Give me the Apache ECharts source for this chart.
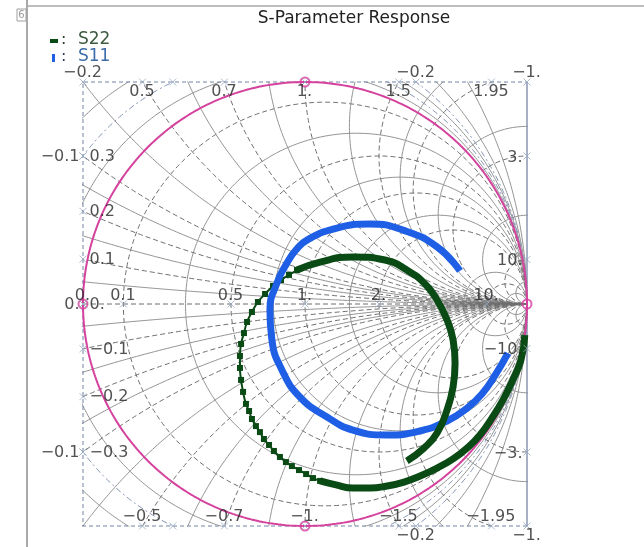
<!DOCTYPE html>
<html>
<head>
<meta charset="utf-8">
<title>S-Parameter Response</title>
<script src="https://cdn.jsdelivr.net/npm/echarts@6.0.0/dist/echarts.min.js"></script>
<style>
  html, body { margin: 0; padding: 0; background: #ffffff; }
  #chart { width: 644px; height: 547px; }
</style>
</head>
<body>
<div id="chart"></div>
<script>
// Reflection coefficient traces, [real, imaginary]
const s11 = [
  [0.698, 0.149], [0.595, 0.257], [0.441, 0.333], [0.293, 0.360], [0.144, 0.342],
  [0.009, 0.288], [-0.041, 0.243], [-0.081, 0.185], [-0.126, 0.095], [-0.158, -0.027],
  [-0.149, -0.162], [-0.104, -0.297], [-0.023, -0.419], [0.099, -0.509], [0.216, -0.568],
  [0.369, -0.590], [0.518, -0.572], [0.640, -0.527], [0.725, -0.473], [0.797, -0.405],
  [0.860, -0.315], [0.914, -0.221]
];
// S22: outer low-frequency arc, sparse sweep section, inner loop
const s22Outer = [
  [0.990, -0.140], [0.973, -0.252], [0.932, -0.351], [0.892, -0.432], [0.842, -0.514],
  [0.788, -0.590], [0.730, -0.649], [0.667, -0.698], [0.595, -0.739], [0.518, -0.775],
  [0.446, -0.802], [0.369, -0.820], [0.293, -0.829], [0.216, -0.829], [0.140, -0.815],
  [0.068, -0.797]
];
const s22Sweep = [
  [0.068, -0.797], [0.036, -0.784], [0.005, -0.766], [-0.027, -0.748], [-0.059, -0.730],
  [-0.086, -0.712], [-0.113, -0.689], [-0.140, -0.662], [-0.162, -0.635], [-0.185, -0.608],
  [-0.203, -0.577], [-0.221, -0.550], [-0.239, -0.518], [-0.252, -0.482], [-0.266, -0.450],
  [-0.279, -0.396], [-0.288, -0.342], [-0.293, -0.288], [-0.293, -0.234], [-0.288, -0.180],
  [-0.275, -0.131], [-0.261, -0.081], [-0.239, -0.036], [-0.212, 0.009], [-0.180, 0.045],
  [-0.144, 0.081], [-0.108, 0.108], [-0.072, 0.131], [-0.036, 0.153]
];
const s22Inner = [
  [-0.036, 0.153], [0.068, 0.189], [0.216, 0.212], [0.360, 0.198], [0.459, 0.153],
  [0.541, 0.090], [0.595, 0.018], [0.640, -0.072], [0.667, -0.162], [0.676, -0.266],
  [0.667, -0.374], [0.640, -0.477], [0.595, -0.581], [0.536, -0.649], [0.459, -0.707]
];

// Smith grid: normalized resistance circles and reactance arcs
const resistanceMajor = [0.1, 0.5, 1, 2, 10];
const resistanceMinor = [0.3, 0.75, 1.5, 6, 20];
const negResistanceMajor = [-0.1, -0.2];
const negResistanceMinor = [-0.05, -0.15, -0.3, -0.5];
const reactanceMajor = [0.1, 0.2, 0.3, 0.5, 0.7, 1, 1.5, 1.95, 3, 10];
const reactanceMinor = [0.05, 0.15, 0.25, 0.4, 0.6, 0.85, 1.25, 1.75, 2.5, 5, 20];

// Tick labels along the border and the real axis
const topReactance = [0.5, 0.7, 1, 1.5, 1.95];
const bottomReactance = [-0.5, -0.7, -1, -1.5, -1.95];
const leftReactance = [0.3, 0.2, 0.1, 0, -0.1, -0.2, -0.3];
const rightReactance = [3, 10, -10, -3];
const axisResistance = [0, 0.1, 0.5, 1, 2, 10];
const topResistance = [-0.2, -1];
const bottomResistance = [-0.2, -1];
const leftResistance = [-0.1, 0];
const markedResistance = [-0.1];

const LABEL_FONT = 'DejaVu Sans';
const LABEL_COLOR = '#262626';
const MAGENTA = '#d5429e';
const S11_COLOR = '#1f5fe6';
const S22_COLOR = '#0a4a14';

const styles = {
  solid:  { color: '#939393', width: 1, type: 'solid' },
  dashed: { color: '#6f6f6f', width: 1, type: [5, 3] },
  outer:  { color: '#8595b5', width: 1, type: [6, 3, 2, 3] }
};

const series = [];

// Arc pieces of a circle that lie inside the (slightly padded) chart square
function circleSegments(cx, cy, rad) {
  const lim = 1.02;
  const n = Math.ceil(2 * Math.PI * rad / 0.004);
  const segs = [];
  let cur = [];
  let startInside = false, endInside = false;
  for (let i = 0; i <= n; i++) {
    const t = 2 * Math.PI * i / n;
    const X = cx + rad * Math.cos(t), Y = cy + rad * Math.sin(t);
    const inside = Math.abs(X) <= lim && Math.abs(Y) <= lim;
    if (i === 0) startInside = inside;
    if (i === n) endInside = inside;
    if (inside) cur.push([X, Y]);
    else if (cur.length) { segs.push(cur); cur = []; }
  }
  if (cur.length) segs.push(cur);
  if (segs.length > 1 && startInside && endInside) {
    const last = segs.pop();
    segs[0] = last.concat(segs[0]);
  }
  return segs;
}

function addGridCircle(cx, cy, rad, style) {
  circleSegments(cx, cy, rad).forEach(seg => {
    series.push({
      type: 'line', data: seg, symbol: 'none', silent: true, clip: true,
      animation: false, lineStyle: style, z: 1
    });
  });
}

resistanceMinor.forEach(r => addGridCircle(r / (1 + r), 0, 1 / (1 + r), styles.solid));
resistanceMajor.forEach(r => addGridCircle(r / (1 + r), 0, 1 / (1 + r), styles.dashed));
negResistanceMinor.forEach(r => addGridCircle(r / (1 + r), 0, 1 / (1 + r), styles.solid));
negResistanceMajor.forEach(r => addGridCircle(r / (1 + r), 0, 1 / (1 + r), styles.outer));
reactanceMinor.forEach(x => {
  addGridCircle(1, 1 / x, 1 / x, styles.solid);
  addGridCircle(1, -1 / x, 1 / x, styles.solid);
});
reactanceMajor.forEach(x => {
  addGridCircle(1, 1 / x, 1 / x, styles.dashed);
  addGridCircle(1, -1 / x, 1 / x, styles.dashed);
});

// Real axis (x = 0)
series.push({
  type: 'line', data: [[-1, 0], [1, 0]], symbol: 'none', silent: true, animation: false,
  lineStyle: styles.dashed, z: 1
});

// Chart border: dashed square, solid r = -1 line on the right
series.push({
  type: 'line', data: [[1, -1], [-1, -1], [-1, 1], [1, 1]], symbol: 'none', silent: true,
  clip: false, animation: false, z: 2,
  lineStyle: { color: '#7384a6', width: 1, type: [4, 3] }
});
series.push({
  type: 'line', data: [[1, 1], [1, -1]], symbol: 'none', silent: true,
  clip: false, animation: false, z: 2,
  lineStyle: { color: '#8a96b0', width: 1.5 }
});

// Unit circle (r = 0)
const unitCircle = [];
for (let i = 0; i <= 720; i++) {
  const t = 2 * Math.PI * i / 720;
  unitCircle.push([Math.cos(t), Math.sin(t)]);
}
series.push({
  type: 'line', data: unitCircle, symbol: 'none', silent: true, clip: false,
  animation: false, z: 3, lineStyle: { color: MAGENTA, width: 2 }
});
series.push({
  type: 'scatter', data: [[0, 1], [-1, 0], [0, -1], [1, 0]], symbol: 'circle', symbolSize: 9,
  silent: true, animation: false, z: 4, clip: false,
  itemStyle: { color: 'rgba(255,255,255,0)', borderColor: MAGENTA, borderWidth: 2 }
});

// Data traces
series.push({
  name: 'S22', type: 'line', data: s22Sweep, smooth: true, animation: false, z: 5,
  symbol: 'rect', symbolSize: 6, showAllSymbol: true,
  itemStyle: { color: S22_COLOR }, lineStyle: { color: S22_COLOR, width: 2 }
});
series.push({
  name: 'S11', type: 'line', data: s11, smooth: true, animation: false, z: 6,
  symbol: 'none', lineStyle: { color: S11_COLOR, width: 7, cap: 'butt' }
});
series.push({
  name: 'S22', type: 'line', data: s22Outer, smooth: true, animation: false, z: 7,
  symbol: 'none', lineStyle: { color: S22_COLOR, width: 7, cap: 'butt' }
});
series.push({
  name: 'S22', type: 'line', data: s22Inner, smooth: true, animation: false, z: 7,
  symbol: 'none', lineStyle: { color: S22_COLOR, width: 7, cap: 'butt' }
});

// Border and axis tick labels
function fmt(v) {
  const a = Math.abs(v);
  const s = Number.isInteger(a) ? a + '.' : String(a);
  return (v < 0 ? '\u2212' : '') + s;
}
const xTopX = x => 1 - Math.sqrt(2 / Math.abs(x) - 1);
const xLeftY = x => (x === 0 ? 0 : (1 - Math.sqrt(1 - 4 * x * x)) / x);
const xRightY = x => 2 / x;
const rAxisX = r => (r - 1) / (r + 1);
function rEdgeX(r) {
  if (r <= -1) return [1];
  const c = r / (1 + r), p = 1 / (1 + r), d = Math.sqrt(p * p - 1);
  return [c + d, c - d];
}
function rLeftY(r) {
  const c = r / (1 + r), p = 1 / (1 + r);
  return Math.sqrt(Math.max(0, p * p - (1 + c) * (1 + c)));
}

const labelGroups = [];
const markerPts = [];
function group(points, pos, align) {
  labelGroups.push({ points, pos, align });
  points.forEach(p => markerPts.push([p[0], p[1]]));
}
group(topReactance.map(x => [xTopX(x), 1, fmt(x)]), [0, 10], 'center');
group(bottomReactance.map(x => [xTopX(x), -1, fmt(x)]), [0, -9], 'center');
group(leftReactance.map(x => [-1, xLeftY(x), fmt(x)]), [7, 1], 'left');
group(rightReactance.map(x => [1, xRightY(x), fmt(x)]), [-4, 2], 'right');
group(axisResistance.map(r => [rAxisX(r), 0, fmt(r)]), [0, -8], 'center');
group([].concat(...topResistance.map(r => rEdgeX(r).map(X => [X, 1, fmt(r)]))), [0, -9], 'center');
group(bottomResistance.map(r => [rEdgeX(r)[0], -1, fmt(r)]), [0, 10], 'center');
group([].concat(...leftResistance.map(r => {
  const y = rLeftY(r);
  return y === 0 ? [[-1, 0, fmt(r)]] : [[-1, y, fmt(r)], [-1, -y, fmt(r)]];
})), [-3, 1], 'right');
markedResistance.forEach(r => {
  const X = rEdgeX(r)[1];
  markerPts.push([X, 1], [X, -1]);
});

series.push({
  type: 'scatter', data: markerPts, silent: true, animation: false, z: 8, clip: false,
  symbol: 'path://M0,0L10,10M10,0L0,10', symbolSize: 7,
  itemStyle: { color: 'rgba(0,0,0,0)', borderColor: '#9aabc6', borderWidth: 1 }
});
labelGroups.forEach(g => {
  series.push({
    type: 'scatter', data: g.points, silent: true, animation: false, z: 9, clip: false,
    symbol: 'circle', symbolSize: 1, itemStyle: { color: 'rgba(0,0,0,0)' },
    label: {
      show: true, position: g.pos, align: g.align, verticalAlign: 'middle',
      formatter: p => p.data[2],
      fontFamily: LABEL_FONT, fontSize: 16, color: LABEL_COLOR
    }
  });
});

const chart = echarts.init(document.getElementById('chart'), null, { renderer: 'canvas' });
chart.setOption({
  backgroundColor: '#ffffff',
  animation: false,
  title: {
    text: 'S-Parameter Response', left: 349, top: 5, textAlign: 'center',
    textStyle: { fontFamily: LABEL_FONT, fontSize: 17, fontWeight: 'normal', color: '#222222' }
  },
  grid: { left: 83, top: 82, width: 444, height: 444, containLabel: false },
  xAxis: { type: 'value', min: -1, max: 1, show: false },
  yAxis: { type: 'value', min: -1, max: 1, show: false },
  tooltip: { show: false },
  graphic: [
    // page frame
    { type: 'line', shape: { x1: 27, y1: 0, x2: 27, y2: 547 }, style: { stroke: '#a9a9a9', lineWidth: 2 }, silent: true },
    { type: 'line', shape: { x1: 27, y1: 6, x2: 644, y2: 6 }, style: { stroke: '#a9a9a9', lineWidth: 1.5 }, silent: true },
    { type: 'rect', shape: { x: 17, y: 9, width: 9, height: 12 }, style: { stroke: '#a0a0a0', fill: '#ffffff', lineWidth: 1 }, silent: true },
    { type: 'text', x: 21.5, y: 15, style: { text: '6', fontSize: 10, fontFamily: LABEL_FONT, fill: '#9a9a9a', align: 'center', verticalAlign: 'middle' }, silent: true },
    // legend
    { type: 'rect', shape: { x: 50, y: 39, width: 8, height: 4 }, style: { fill: S22_COLOR }, silent: true },
    { type: 'text', x: 61, y: 40, style: { text: ':', fontSize: 16, fontFamily: LABEL_FONT, fill: '#2a3a2a', verticalAlign: 'middle' }, silent: true },
    { type: 'text', x: 78, y: 40, style: { text: 'S22', fontSize: 17, fontFamily: LABEL_FONT, fill: '#3e5a40', verticalAlign: 'middle' }, silent: true },
    { type: 'rect', shape: { x: 52, y: 54, width: 3, height: 8 }, style: { fill: S11_COLOR }, silent: true },
    { type: 'text', x: 61, y: 57, style: { text: ':', fontSize: 16, fontFamily: LABEL_FONT, fill: '#2a3a5a', verticalAlign: 'middle' }, silent: true },
    { type: 'text', x: 78, y: 57, style: { text: 'S11', fontSize: 17, fontFamily: LABEL_FONT, fill: '#3c6ca8', verticalAlign: 'middle' }, silent: true }
  ],
  series: series
});
</script>
</body>
</html>
